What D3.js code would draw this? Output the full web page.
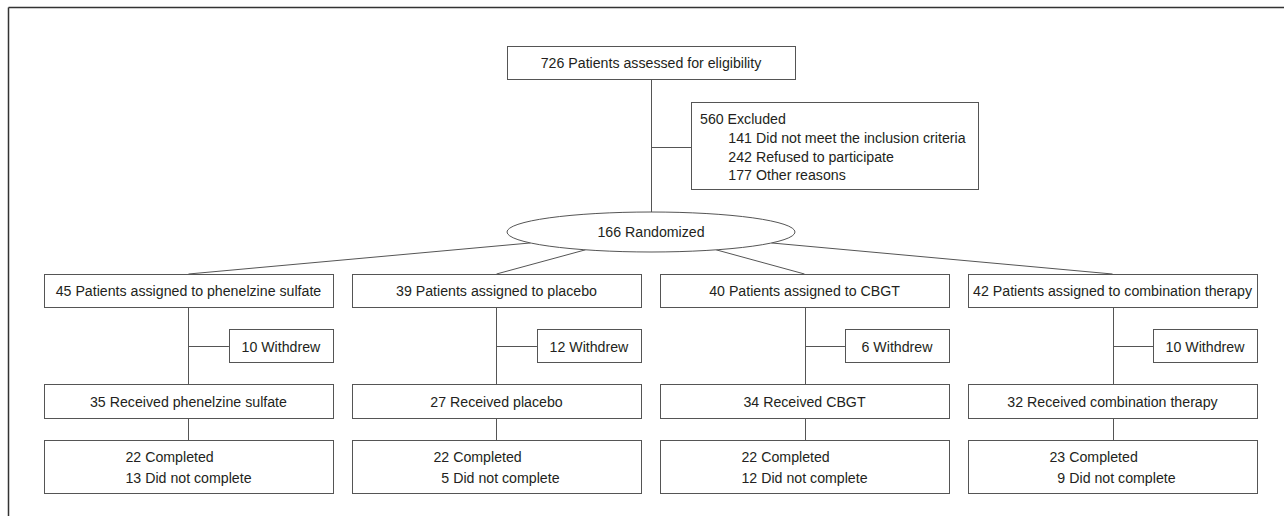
<!DOCTYPE html>
<html>
<head>
<meta charset="utf-8">
<script src="https://cdn.jsdelivr.net/npm/d3@7"></script>
<style>
  html, body { margin: 0; padding: 0; background: #fff; }
  text { font-family: "Liberation Sans", Arial, sans-serif; font-size: 15.5px; fill: #231f20; }
</style>
</head>
<body>
<svg id="chart" width="1284" height="516"></svg>
<script>
// ---- data ----
const assessed = 726;
const excluded = 560;
const exclusionReasons = ["Did not meet the inclusion criteria", "Refused to participate", "Other reasons"];
const exclusionCounts = [141, 242, 177];
const randomized = 166;
const arms = ["phenelzine sulfate", "placebo", "CBGT", "combination therapy"];
const assigned = [45, 39, 40, 42];
const withdrew = [10, 12, 6, 10];
const received = [35, 27, 34, 32];
const completed = [22, 22, 22, 23];
const notCompleted = [13, 5, 12, 9];

// ---- layout ----
const svg = d3.select("#chart");
const stroke = "#555";
const SX = 0.915; // horizontal condensing of the font

// frame (top and left only, as in the reference)
svg.append("line").attr("x1", 8.5).attr("y1", 7.5).attr("x2", 1284).attr("y2", 7.5)
  .attr("stroke", "#333").attr("stroke-width", 1.5);
svg.append("line").attr("x1", 8.5).attr("y1", 7.5).attr("x2", 8.5).attr("y2", 516)
  .attr("stroke", "#333").attr("stroke-width", 1.5);

const x = d3.scaleBand().domain(arms).range([44, 1257]).paddingInner(0.062).paddingOuter(0);
const bw = x.bandwidth();
const cx = a => x(a) + bw / 2;

const rowY = { assigned: [274, 307], withdrew: [329, 362], received: [384, 418], completed: [440, 493] };

function box(x0, y0, w, h) {
  svg.append("rect").attr("x", Math.round(x0) + 0.5).attr("y", y0 + 0.5)
    .attr("width", Math.round(w)).attr("height", h)
    .attr("fill", "#fff").attr("stroke", stroke).attr("stroke-width", 1);
}
function line(x1, y1, x2, y2) {
  svg.append("line").attr("x1", x1).attr("y1", y1).attr("x2", x2).attr("y2", y2)
    .attr("stroke", stroke).attr("stroke-width", 1);
}
function label(xp, yp, str, anchor) {
  return svg.append("text")
    .attr("transform", `translate(${xp},${yp}) scale(${SX},1)`)
    .attr("text-anchor", anchor || "start")
    .text(str);
}
const tw = s => s.node().getComputedTextLength() * SX;

// top box
const topCx = 651;
const topBox = { x: 507, y: 46, w: 288, h: 33 };
// excluded box
const exBox = { x: 691, y: 102, w: 287, h: 87 };
// ellipse
const ell = { cx: 651, cy: 232, rx: 144, ry: 20 };

// connectors top
line(topCx + 0.5, topBox.y + topBox.h, topCx + 0.5, ell.cy - ell.ry);
line(topCx + 0.5, 147.5, exBox.x, 147.5);

// lines from ellipse to arm boxes (clipped at ellipse boundary)
arms.forEach(a => {
  const tx = cx(a), ty = rowY.assigned[0];
  const dx = tx - ell.cx, dy = ty - ell.cy;
  const t = 1 / Math.sqrt((dx / ell.rx) ** 2 + (dy / ell.ry) ** 2);
  line(ell.cx + dx * t, ell.cy + dy * t, tx, ty);
});

box(topBox.x, topBox.y, topBox.w, topBox.h);
label(topBox.x + topBox.w / 2, 68.3, `${assessed} Patients assessed for eligibility`, "middle");

box(exBox.x, exBox.y, exBox.w, exBox.h);
label(700, 124, `${excluded} Excluded`);
exclusionReasons.forEach((r, i) => {
  const y = 143.3 + i * 18.5;
  label(752, y, exclusionCounts[i], "end");
  label(756, y, r);
});

svg.append("ellipse").attr("cx", ell.cx).attr("cy", ell.cy).attr("rx", ell.rx).attr("ry", ell.ry)
  .attr("fill", "#fff").attr("stroke", stroke).attr("stroke-width", 1);
label(ell.cx, ell.cy + 5.3, `${randomized} Randomized`, "middle");

// arms
arms.forEach((a, i) => {
  const x0 = x(a), c = Math.round(cx(a)) + 0.5;
  // vertical connectors
  line(c, rowY.assigned[1], c, rowY.received[0]);
  line(c, rowY.received[1], c, rowY.completed[0]);
  const wx = x0 + bw - 104;
  const wy = (rowY.withdrew[0] + rowY.withdrew[1]) / 2;
  line(c, Math.round(wy) + 0.5, wx, Math.round(wy) + 0.5);

  box(x0, rowY.assigned[0], bw, rowY.assigned[1] - rowY.assigned[0]);
  label(cx(a), rowY.assigned[0] + 22, `${assigned[i]} Patients assigned to ${a}`, "middle");

  box(wx, rowY.withdrew[0], x0 + bw - wx, rowY.withdrew[1] - rowY.withdrew[0]);
  label(wx + (x0 + bw - wx) / 2, rowY.withdrew[0] + 22.5, `${withdrew[i]} Withdrew`, "middle");

  box(x0, rowY.received[0], bw, rowY.received[1] - rowY.received[0]);
  label(cx(a), rowY.received[0] + 22.5, `${received[i]} Received ${a}`, "middle");

  box(x0, rowY.completed[0], bw, rowY.completed[1] - rowY.completed[0]);
  const y1 = rowY.completed[0] + 21.7, y2 = rowY.completed[0] + 43.3;
  const n1 = label(0, y1, completed[i], "end");
  const n2 = label(0, y2, notCompleted[i], "end");
  const t1 = label(0, y1, "Completed");
  const t2 = label(0, y2, "Did not complete");
  const numW = Math.max(tw(n1), tw(n2));
  const gap = 4;
  const labW = Math.max(tw(t1), tw(t2));
  const left = cx(a) - (numW + gap + labW) / 2;
  const nx = left + numW, lx = left + numW + gap;
  n1.attr("transform", `translate(${nx},${y1}) scale(${SX},1)`);
  n2.attr("transform", `translate(${nx},${y2}) scale(${SX},1)`);
  t1.attr("transform", `translate(${lx},${y1}) scale(${SX},1)`);
  t2.attr("transform", `translate(${lx},${y2}) scale(${SX},1)`);
});
</script>
</body>
</html>
